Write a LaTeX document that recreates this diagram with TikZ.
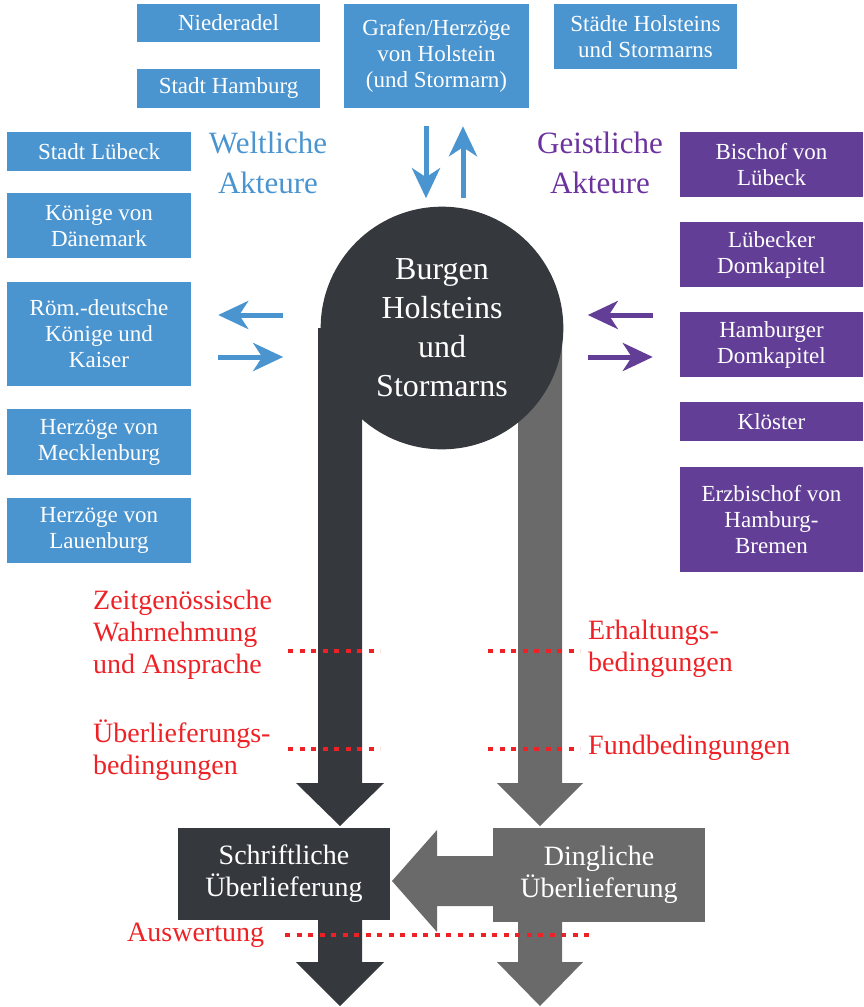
\documentclass[tikz,border=0pt]{standalone}
\usepackage{fontspec}
\setmainfont{Liberation Serif}
\usetikzlibrary{shapes,arrows.meta}

\definecolor{weltblau}{RGB}{74,148,207}
\definecolor{geistlila}{RGB}{98,62,150}
\definecolor{titellila}{RGB}{108,50,158}
\definecolor{burggrau}{RGB}{53,56,60}
\definecolor{dinggrau}{RGB}{106,106,106}
\definecolor{rotlabel}{RGB}{238,34,38}

\begin{document}
\begin{tikzpicture}[x=1pt, y=-1pt,
    weltbox/.style={rectangle, fill=weltblau, text=white, align=center, inner sep=0pt,
        minimum width=183, font=\fontsize{23}{26}\selectfont},
    geistbox/.style={weltbox, fill=geistlila},
    quellbox/.style={rectangle, text=white, align=center, inner sep=0pt,
        minimum width=212, font=\fontsize{28}{32}\selectfont},
    titel/.style={align=center, inner sep=0pt, font=\fontsize{31}{40}\selectfont},
    rotlabel/.style={text=rotlabel, align=left, anchor=west, inner sep=0pt,
        font=\fontsize{28}{32}\selectfont},
    dotline/.style={draw=rotlabel, line width=4pt, dash pattern=on 5pt off 6.5pt},
    bluearrow/.style={draw=weltblau, line width=5pt, -{Stealth[length=30pt, width=28pt, inset=9pt]}},
    lilaarrow/.style={bluearrow, draw=geistlila}]
    \useasboundingbox (0,0) rectangle (863,1007);

    % Big flows behind the circle
    \fill[dinggrau] (518,330) -- (518,783) -- (497,783) -- (540,826) -- (583,783) -- (562,783) -- (562,330) -- cycle;
    \fill[burggrau] (318,328) -- (318,783) -- (296,783) -- (340,826) -- (384,783) -- (362,783) -- (362,328) -- cycle;
    \fill[dinggrau] (495,856) -- (437,856) -- (437,830) -- (392,881) -- (437,932) -- (437,906) -- (495,906) -- cycle;
    \fill[burggrau] (318,918) -- (318,962) -- (296,962) -- (340,1006) -- (384,962) -- (362,962) -- (362,918) -- cycle;
    \fill[dinggrau] (518,920) -- (518,962) -- (497,962) -- (540,1006) -- (583,962) -- (562,962) -- (562,920) -- cycle;

    % Define nodes
    \node[circle, fill=burggrau, text=white, minimum size=240, inner sep=0pt, align=center,
        font=\fontsize{32}{39}\selectfont] (burg) at (442,328) {\raisebox{-5pt}{\parbox{200pt}{\centering Burgen\\Holsteins\\und\\Stormarns}}};
    \node[quellbox, fill=burggrau, minimum height=92] (schrift) at (284,874) {Schriftliche\\Überlieferung};
    \node[quellbox, fill=dinggrau, minimum height=94] (ding) at (599,875) {Dingliche\\Überlieferung};

    % Weltliche Akteure
    \node[weltbox, minimum height=38] (nieder) at (228.5,23) {Niederadel};
    \node[weltbox, minimum height=39] (shamburg) at (228.5,88.5) {Stadt Hamburg};
    \node[weltbox, minimum width=185, minimum height=104] (grafen) at (436.5,56) {Grafen/Herzöge\\von Holstein\\(und Stormarn)};
    \node[weltbox, minimum height=65] (staedte) at (645.5,36.5) {Städte Holsteins\\und Stormarns};
    \node[weltbox, minimum width=184, minimum height=39] (sluebeck) at (99,151.5) {Stadt Lübeck};
    \node[weltbox, minimum width=184, minimum height=65] (daenemark) at (99,225.5) {Könige von\\Dänemark};
    \node[weltbox, minimum width=184, minimum height=104] (roem) at (99,334) {Röm.-deutsche\\Könige und\\Kaiser};
    \node[weltbox, minimum width=184, minimum height=66] (meck) at (99,442) {Herzöge von\\Mecklenburg};
    \node[weltbox, minimum width=184, minimum height=65] (lauen) at (99,530.5) {Herzöge von\\Lauenburg};
    \node[titel, text=weltblau] (welt) at (268,163) {Weltliche\\Akteure};

    % Geistliche Akteure
    \node[geistbox, minimum height=65] (bischof) at (771.5,164.5) {Bischof von\\Lübeck};
    \node[geistbox, minimum height=65] (ldom) at (771.5,254.5) {Lübecker\\Domkapitel};
    \node[geistbox, minimum height=65] (hdom) at (771.5,344.5) {Hamburger\\Domkapitel};
    \node[geistbox, minimum height=39] (kloester) at (771.5,421.5) {Klöster};
    \node[geistbox, minimum height=105] (erzb) at (771.5,519.5) {Erzbischof von\\Hamburg-\\Bremen};
    \node[titel, text=titellila] (geist) at (600,163) {Geistliche\\Akteure};

    % Exchange arrows
    \draw[bluearrow] ([xshift=-10.5pt]grafen.south) ++(0,18) -- ++(0,72);
    \draw[bluearrow] ([xshift=26.5pt]grafen.south) ++(0,90) -- ++(0,-72);
    \draw[bluearrow] ([yshift=19pt]roem.east) ++(92,0) -- ++(-65,0);
    \draw[bluearrow] ([yshift=-23pt]roem.east) ++(27,0) -- ++(65,0);
    \draw[lilaarrow] ([yshift=29.5pt]hdom.west) ++(-27,0) -- ++(-65,0);
    \draw[lilaarrow] ([yshift=-12.5pt]hdom.west) ++(-92,0) -- ++(65,0);

    % Filters
    \node[rotlabel] (zeit) at (93,635) {Zeitgenössische\\Wahrnehmung\\und Ansprache};
    \node[rotlabel] (ueberl) at (93,750) {Überlieferungs-\\bedingungen};
    \node[rotlabel] (erhalt) at (588,649) {Erhaltungs-\\bedingungen};
    \node[rotlabel] (fund) at (588,748) {Fundbedingungen};
    \node[rotlabel] (ausw) at (127,935) {Auswertung};
    \draw[dotline] (288,651) -- (380,651);
    \draw[dotline] (288,749) -- (380,749);
    \draw[dotline] (488,651) -- (580,651);
    \draw[dotline] (488,749) -- (580,749);
    \draw[dotline] (285,935) -- (590,935);
\end{tikzpicture}
\end{document}
